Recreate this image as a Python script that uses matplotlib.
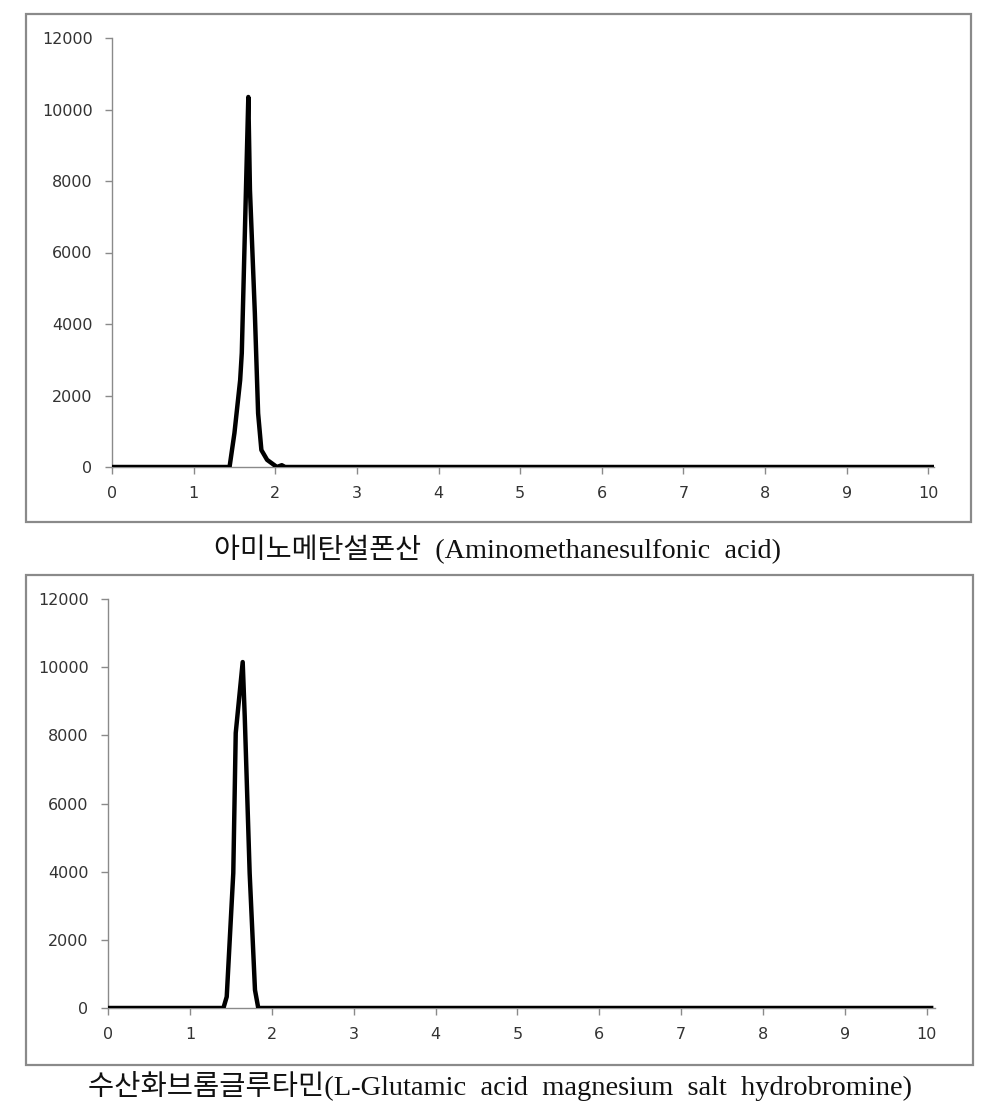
import matplotlib
matplotlib.use("Agg")
import matplotlib.pyplot as plt
from matplotlib.patches import Rectangle

# ---- data ----
x_top = [0.0, 1.44, 1.50, 1.57, 1.59, 1.67, 1.69, 1.75, 1.79, 1.83, 1.90, 2.02, 2.08, 2.12, 10.07]
y_top = [0, 0, 950, 2430, 3190, 10350, 7750, 4300, 1500, 475, 200, 0, 50, 0, 0]

x_bot = [0.0, 1.41, 1.45, 1.53, 1.56, 1.645, 1.67, 1.73, 1.795, 1.835, 10.08]
y_bot = [0, 0, 330, 3960, 8070, 10150, 8550, 3960, 530, 0, 0]

x_ticks = list(range(0, 11))
y_ticks = [0, 2000, 4000, 6000, 8000, 10000, 12000]

caption_top = "아미노메탄설폰산  (Aminomethanesulfonic  acid)"
caption_bot = "수산화브롬글루타민(L-Glutamic  acid  magnesium  salt  hydrobromine)"

W, H = 1001, 1117
fig = plt.figure(figsize=(W / 100, H / 100), dpi=100)


def fx(px):
    return px / W


def fy(py):
    return 1 - py / H


def make_axes(left_px, right_px, top_px, bottom_px, xmax, xs, ys):
    ax = fig.add_axes([fx(left_px), fy(bottom_px), (right_px - left_px) / W, (bottom_px - top_px) / H])
    ax.plot(xs, ys, color="black", lw=3.2, solid_joinstyle="round", solid_capstyle="butt", zorder=3)
    ax.set_xlim(0, xmax)
    ax.set_ylim(0, 12000)
    ax.set_xticks(x_ticks)
    ax.set_yticks(y_ticks)
    for s in ["top", "right"]:
        ax.spines[s].set_visible(False)
    for s in ["left", "bottom"]:
        ax.spines[s].set_color("#8a8a8a")
        ax.spines[s].set_linewidth(1.0)
    ax.tick_params(axis="both", direction="out", color="#8a8a8a", width=1.0,
                   length=5, labelsize=11.5, labelcolor="#333333")
    ax.tick_params(axis="y", pad=9)
    ax.tick_params(axis="x", pad=9)
    ax.patch.set_alpha(0)
    return ax


make_axes(112, 934, 38, 467, 10.07, x_top, y_top)
make_axes(108, 935, 599, 1008, 10.1, x_bot, y_bot)

# chart-area borders
for (l, t, r, b) in [(26, 14, 971, 522), (26, 575, 973, 1065)]:
    fig.patches.append(Rectangle((fx(l), fy(b)), (r - l) / W, (b - t) / H,
                                 transform=fig.transFigure, fill=False,
                                 edgecolor="#8a8a8a", lw=1.6, zorder=0))

fam = ["Liberation Serif", "Noto Sans CJK KR"]
fig.text(fx(498), fy(549), caption_top, ha="center", va="center",
         fontsize=20.3, family=fam, color="#111111")
fig.text(fx(500), fy(1086), caption_bot, ha="center", va="center",
         fontsize=20.5, family=fam, color="#111111")

fig.savefig("out.png", dpi=100)
